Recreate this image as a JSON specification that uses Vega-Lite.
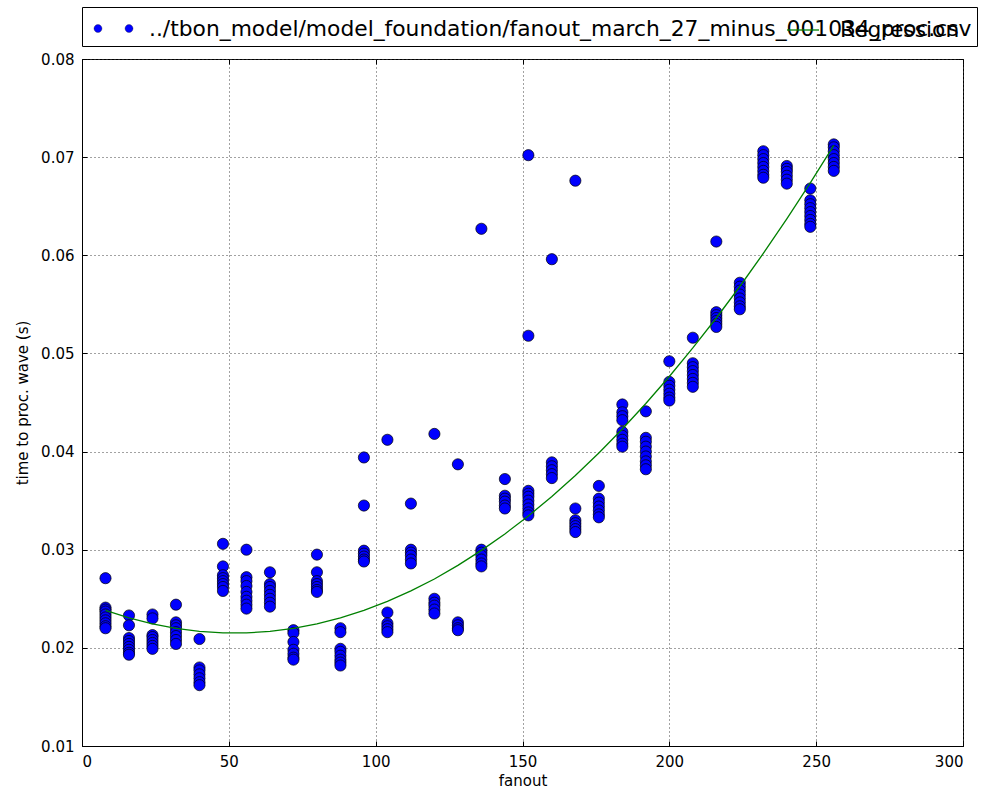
{
  "$schema": "https://vega.github.io/schema/vega-lite/v6.json",
  "width": 881,
  "height": 687,
  "autosize": {"type": "none"},
  "padding": {"left": 82, "top": 59, "right": 20, "bottom": 48},
  "background": "white",
  "config": {
    "font": "DejaVu Sans",
    "view": {"stroke": "black", "strokeWidth": 1},
    "axis": {
      "labelFont": "DejaVu Sans",
      "titleFont": "DejaVu Sans",
      "labelFontSize": 15,
      "titleFontSize": 15,
      "titleFontWeight": "normal",
      "labelColor": "black",
      "titleColor": "black",
      "domainColor": "black",
      "tickColor": "black",
      "gridColor": "#444",
      "gridDash": [1, 3],
      "gridWidth": 1,
      "tickSize": -5,
      "labelPadding": 13
    }
  },
  "datasets": {
    "pts": [
      {"fanout": 8, "time": 0.0271}, {"fanout": 8, "time": 0.0241}, {"fanout": 8, "time": 0.0239}, {"fanout": 8, "time": 0.0237}, {"fanout": 8, "time": 0.0234}, {"fanout": 8, "time": 0.0231}, {"fanout": 8, "time": 0.0228}, {"fanout": 8, "time": 0.0225}, {"fanout": 8, "time": 0.0222}, {"fanout": 8, "time": 0.0220},
      {"fanout": 16, "time": 0.0233}, {"fanout": 16, "time": 0.0223}, {"fanout": 16, "time": 0.0210}, {"fanout": 16, "time": 0.0207}, {"fanout": 16, "time": 0.0204}, {"fanout": 16, "time": 0.0201}, {"fanout": 16, "time": 0.0198}, {"fanout": 16, "time": 0.0195}, {"fanout": 16, "time": 0.0193},
      {"fanout": 24, "time": 0.0234}, {"fanout": 24, "time": 0.0230}, {"fanout": 24, "time": 0.0213}, {"fanout": 24, "time": 0.0211}, {"fanout": 24, "time": 0.0208}, {"fanout": 24, "time": 0.0205}, {"fanout": 24, "time": 0.0202}, {"fanout": 24, "time": 0.0199},
      {"fanout": 32, "time": 0.0244}, {"fanout": 32, "time": 0.0226}, {"fanout": 32, "time": 0.0223}, {"fanout": 32, "time": 0.0220}, {"fanout": 32, "time": 0.0216}, {"fanout": 32, "time": 0.0212}, {"fanout": 32, "time": 0.0208}, {"fanout": 32, "time": 0.0204},
      {"fanout": 40, "time": 0.0209}, {"fanout": 40, "time": 0.0180}, {"fanout": 40, "time": 0.0177}, {"fanout": 40, "time": 0.0173}, {"fanout": 40, "time": 0.0169}, {"fanout": 40, "time": 0.0165}, {"fanout": 40, "time": 0.0162},
      {"fanout": 48, "time": 0.0306}, {"fanout": 48, "time": 0.0283}, {"fanout": 48, "time": 0.0274}, {"fanout": 48, "time": 0.0271}, {"fanout": 48, "time": 0.0268}, {"fanout": 48, "time": 0.0265}, {"fanout": 48, "time": 0.0262}, {"fanout": 48, "time": 0.0258},
      {"fanout": 56, "time": 0.0300}, {"fanout": 56, "time": 0.0272}, {"fanout": 56, "time": 0.0268}, {"fanout": 56, "time": 0.0263}, {"fanout": 56, "time": 0.0257}, {"fanout": 56, "time": 0.0252}, {"fanout": 56, "time": 0.0248}, {"fanout": 56, "time": 0.0244}, {"fanout": 56, "time": 0.0240},
      {"fanout": 64, "time": 0.0277}, {"fanout": 64, "time": 0.0265}, {"fanout": 64, "time": 0.0262}, {"fanout": 64, "time": 0.0258}, {"fanout": 64, "time": 0.0254}, {"fanout": 64, "time": 0.0250}, {"fanout": 64, "time": 0.0246}, {"fanout": 64, "time": 0.0242},
      {"fanout": 72, "time": 0.0218}, {"fanout": 72, "time": 0.0215}, {"fanout": 72, "time": 0.0206}, {"fanout": 72, "time": 0.0198}, {"fanout": 72, "time": 0.0194}, {"fanout": 72, "time": 0.0190}, {"fanout": 72, "time": 0.0188},
      {"fanout": 80, "time": 0.0295}, {"fanout": 80, "time": 0.0277}, {"fanout": 80, "time": 0.0268}, {"fanout": 80, "time": 0.0265}, {"fanout": 80, "time": 0.0262}, {"fanout": 80, "time": 0.0259}, {"fanout": 80, "time": 0.0257},
      {"fanout": 88, "time": 0.0220}, {"fanout": 88, "time": 0.0216}, {"fanout": 88, "time": 0.0199}, {"fanout": 88, "time": 0.0196}, {"fanout": 88, "time": 0.0192}, {"fanout": 88, "time": 0.0188}, {"fanout": 88, "time": 0.0185}, {"fanout": 88, "time": 0.0182},
      {"fanout": 96, "time": 0.0394}, {"fanout": 96, "time": 0.0345}, {"fanout": 96, "time": 0.0299}, {"fanout": 96, "time": 0.0296}, {"fanout": 96, "time": 0.0293}, {"fanout": 96, "time": 0.0290}, {"fanout": 96, "time": 0.0288},
      {"fanout": 104, "time": 0.0412}, {"fanout": 104, "time": 0.0236}, {"fanout": 104, "time": 0.0225}, {"fanout": 104, "time": 0.0222}, {"fanout": 104, "time": 0.0219}, {"fanout": 104, "time": 0.0216},
      {"fanout": 112, "time": 0.0347}, {"fanout": 112, "time": 0.0300}, {"fanout": 112, "time": 0.0297}, {"fanout": 112, "time": 0.0294}, {"fanout": 112, "time": 0.0290}, {"fanout": 112, "time": 0.0286},
      {"fanout": 120, "time": 0.0418}, {"fanout": 120, "time": 0.0250}, {"fanout": 120, "time": 0.0246}, {"fanout": 120, "time": 0.0243}, {"fanout": 120, "time": 0.0239}, {"fanout": 120, "time": 0.0235},
      {"fanout": 128, "time": 0.0387}, {"fanout": 128, "time": 0.0226}, {"fanout": 128, "time": 0.0223}, {"fanout": 128, "time": 0.0220}, {"fanout": 128, "time": 0.0218},
      {"fanout": 136, "time": 0.0627}, {"fanout": 136, "time": 0.0300}, {"fanout": 136, "time": 0.0297}, {"fanout": 136, "time": 0.0294}, {"fanout": 136, "time": 0.0290}, {"fanout": 136, "time": 0.0286}, {"fanout": 136, "time": 0.0283},
      {"fanout": 144, "time": 0.0372}, {"fanout": 144, "time": 0.0355}, {"fanout": 144, "time": 0.0352}, {"fanout": 144, "time": 0.0349}, {"fanout": 144, "time": 0.0345}, {"fanout": 144, "time": 0.0342},
      {"fanout": 152, "time": 0.0702}, {"fanout": 152, "time": 0.0518}, {"fanout": 152, "time": 0.0360}, {"fanout": 152, "time": 0.0357}, {"fanout": 152, "time": 0.0354}, {"fanout": 152, "time": 0.0350}, {"fanout": 152, "time": 0.0346}, {"fanout": 152, "time": 0.0342}, {"fanout": 152, "time": 0.0338}, {"fanout": 152, "time": 0.0335},
      {"fanout": 160, "time": 0.0596}, {"fanout": 160, "time": 0.0389}, {"fanout": 160, "time": 0.0385}, {"fanout": 160, "time": 0.0381}, {"fanout": 160, "time": 0.0377}, {"fanout": 160, "time": 0.0373},
      {"fanout": 168, "time": 0.0676}, {"fanout": 168, "time": 0.0342}, {"fanout": 168, "time": 0.0330}, {"fanout": 168, "time": 0.0327}, {"fanout": 168, "time": 0.0324}, {"fanout": 168, "time": 0.0321}, {"fanout": 168, "time": 0.0318},
      {"fanout": 176, "time": 0.0365}, {"fanout": 176, "time": 0.0352}, {"fanout": 176, "time": 0.0348}, {"fanout": 176, "time": 0.0344}, {"fanout": 176, "time": 0.0340}, {"fanout": 176, "time": 0.0336}, {"fanout": 176, "time": 0.0333},
      {"fanout": 184, "time": 0.0448}, {"fanout": 184, "time": 0.0440}, {"fanout": 184, "time": 0.0436}, {"fanout": 184, "time": 0.0432}, {"fanout": 184, "time": 0.0420}, {"fanout": 184, "time": 0.0416}, {"fanout": 184, "time": 0.0412}, {"fanout": 184, "time": 0.0408}, {"fanout": 184, "time": 0.0405},
      {"fanout": 192, "time": 0.0441}, {"fanout": 192, "time": 0.0414}, {"fanout": 192, "time": 0.0410}, {"fanout": 192, "time": 0.0405}, {"fanout": 192, "time": 0.0400}, {"fanout": 192, "time": 0.0395}, {"fanout": 192, "time": 0.0390}, {"fanout": 192, "time": 0.0386}, {"fanout": 192, "time": 0.0382},
      {"fanout": 200, "time": 0.0492}, {"fanout": 200, "time": 0.0471}, {"fanout": 200, "time": 0.0467}, {"fanout": 200, "time": 0.0463}, {"fanout": 200, "time": 0.0459}, {"fanout": 200, "time": 0.0455}, {"fanout": 200, "time": 0.0452},
      {"fanout": 208, "time": 0.0516}, {"fanout": 208, "time": 0.0490}, {"fanout": 208, "time": 0.0486}, {"fanout": 208, "time": 0.0482}, {"fanout": 208, "time": 0.0478}, {"fanout": 208, "time": 0.0474}, {"fanout": 208, "time": 0.0470}, {"fanout": 208, "time": 0.0466},
      {"fanout": 216, "time": 0.0614}, {"fanout": 216, "time": 0.0542}, {"fanout": 216, "time": 0.0539}, {"fanout": 216, "time": 0.0536}, {"fanout": 216, "time": 0.0533}, {"fanout": 216, "time": 0.0530}, {"fanout": 216, "time": 0.0527},
      {"fanout": 224, "time": 0.0572}, {"fanout": 224, "time": 0.0568}, {"fanout": 224, "time": 0.0564}, {"fanout": 224, "time": 0.0560}, {"fanout": 224, "time": 0.0556}, {"fanout": 224, "time": 0.0552}, {"fanout": 224, "time": 0.0548}, {"fanout": 224, "time": 0.0545},
      {"fanout": 232, "time": 0.0706}, {"fanout": 232, "time": 0.0702}, {"fanout": 232, "time": 0.0698}, {"fanout": 232, "time": 0.0694}, {"fanout": 232, "time": 0.0690}, {"fanout": 232, "time": 0.0686}, {"fanout": 232, "time": 0.0682}, {"fanout": 232, "time": 0.0679},
      {"fanout": 240, "time": 0.0691}, {"fanout": 240, "time": 0.0688}, {"fanout": 240, "time": 0.0685}, {"fanout": 240, "time": 0.0681}, {"fanout": 240, "time": 0.0677}, {"fanout": 240, "time": 0.0673},
      {"fanout": 248, "time": 0.0668}, {"fanout": 248, "time": 0.0656}, {"fanout": 248, "time": 0.0652}, {"fanout": 248, "time": 0.0648}, {"fanout": 248, "time": 0.0644}, {"fanout": 248, "time": 0.0640}, {"fanout": 248, "time": 0.0636}, {"fanout": 248, "time": 0.0632}, {"fanout": 248, "time": 0.0629},
      {"fanout": 256, "time": 0.0713}, {"fanout": 256, "time": 0.0710}, {"fanout": 256, "time": 0.0706}, {"fanout": 256, "time": 0.0702}, {"fanout": 256, "time": 0.0698}, {"fanout": 256, "time": 0.0694}, {"fanout": 256, "time": 0.0690}, {"fanout": 256, "time": 0.0686}
    ],
    "fit": [
      {"fanout": 8, "time": 0.02381}, {"fanout": 16, "time": 0.02305}, {"fanout": 24, "time": 0.02244}, {"fanout": 32, "time": 0.02198},
      {"fanout": 40, "time": 0.02167}, {"fanout": 48, "time": 0.02152}, {"fanout": 56, "time": 0.02152}, {"fanout": 64, "time": 0.02167},
      {"fanout": 72, "time": 0.02198}, {"fanout": 80, "time": 0.02244}, {"fanout": 88, "time": 0.02305}, {"fanout": 96, "time": 0.02381},
      {"fanout": 104, "time": 0.02473}, {"fanout": 112, "time": 0.02580}, {"fanout": 120, "time": 0.02702}, {"fanout": 128, "time": 0.02840},
      {"fanout": 136, "time": 0.02993}, {"fanout": 144, "time": 0.03161}, {"fanout": 152, "time": 0.03344}, {"fanout": 160, "time": 0.03543},
      {"fanout": 168, "time": 0.03757}, {"fanout": 176, "time": 0.03986}, {"fanout": 184, "time": 0.04230}, {"fanout": 192, "time": 0.04490},
      {"fanout": 200, "time": 0.04765}, {"fanout": 208, "time": 0.05056}, {"fanout": 216, "time": 0.05361}, {"fanout": 224, "time": 0.05682},
      {"fanout": 232, "time": 0.06019}, {"fanout": 240, "time": 0.06370}, {"fanout": 248, "time": 0.06737}, {"fanout": 256, "time": 0.07119}
    ]
  },
  "resolve": {"axis": {"x": "independent", "y": "independent"}},
  "layer": [
    {
      "data": {"name": "pts"},
      "mark": {"type": "circle", "size": 125, "opacity": 1, "stroke": "black", "strokeWidth": 0.7},
      "encoding": {
        "x": {"field": "fanout", "type": "quantitative", "scale": {"domain": [0, 300], "nice": false},
              "axis": {"title": "fanout", "values": [0, 50, 100, 150, 200, 250, 300], "titlePadding": 4}},
        "y": {"field": "time", "type": "quantitative", "scale": {"domain": [0.01, 0.08], "nice": false, "zero": false},
              "axis": {"title": "time to proc. wave (s)", "format": ".2f", "values": [0.01, 0.02, 0.03, 0.04, 0.05, 0.06, 0.07, 0.08], "titlePadding": 10}},
        "fill": {"datum": "../tbon_model/model_foundation/fanout_march_27_minus_001034_proc.csv", "type": "nominal",
                 "scale": {"range": ["#0000ff"]},
                 "legend": {"title": null, "orient": "none", "legendX": 0, "legendY": -52, "padding": 5,
                            "strokeColor": "black", "fillColor": "white", "labelFontSize": 21.8, "labelLimit": 2000,
                            "labelColor": "black", "labelOffset": 19, "symbolOffset": 10,
                            "symbolType": "M -0.72,0 A 0.25,0.25 0 1,0 -1.22,0 A 0.25,0.25 0 1,0 -0.72,0 Z M 1.22,0 A 0.25,0.25 0 1,0 0.72,0 A 0.25,0.25 0 1,0 1.22,0 Z",
                            "symbolSize": 1024,
                            "symbolStrokeColor": "black", "symbolStrokeWidth": 0.3, "symbolOpacity": 1}}
      }
    },
    {
      "data": {"name": "fit"},
      "mark": {"type": "line", "strokeWidth": 1.3},
      "encoding": {
        "x": {"field": "fanout", "type": "quantitative",
              "axis": {"orient": "top", "labels": false, "title": null, "grid": false, "domain": false, "values": [0, 50, 100, 150, 200, 250, 300]}},
        "y": {"field": "time", "type": "quantitative",
              "axis": {"orient": "right", "labels": false, "title": null, "grid": false, "domain": false, "values": [0.01, 0.02, 0.03, 0.04, 0.05, 0.06, 0.07, 0.08]}},
        "stroke": {"datum": "Regression", "type": "nominal", "scale": {"range": ["#008000"]},
                   "legend": {"title": null, "orient": "none", "legendX": 704, "legendY": -46, "padding": 0,
                              "labelFontSize": 21.8, "labelColor": "black", "labelOffset": 20, "symbolType": "stroke", "symbolSize": 1024,
                              "symbolStrokeWidth": 1.3}}
      }
    }
  ]
}
